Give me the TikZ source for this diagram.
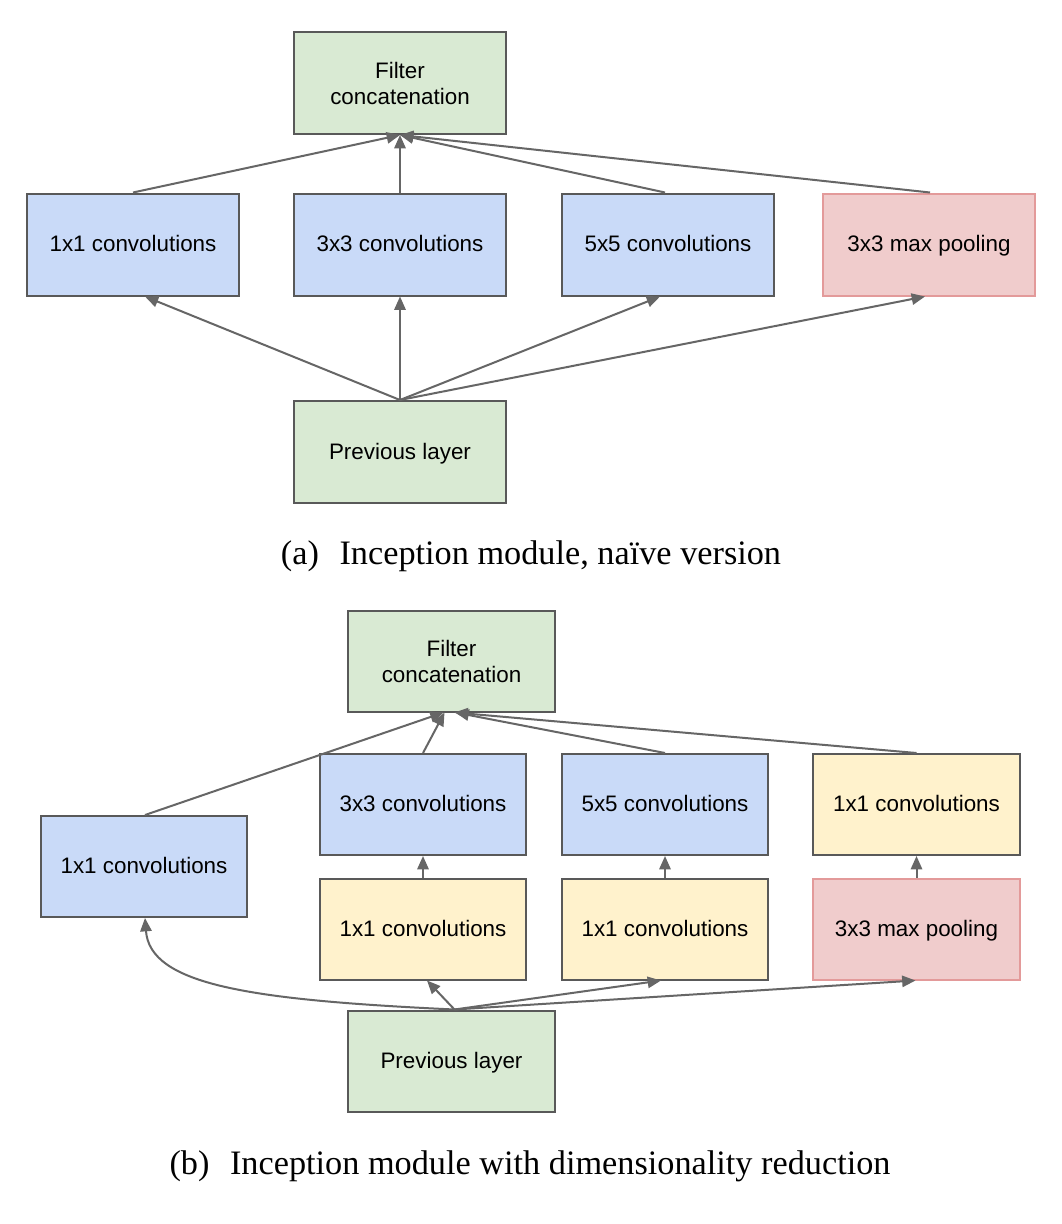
\documentclass[tikz,border=0pt]{standalone}
\usepackage{fontspec}
\setmainfont{Liberation Serif}
\newfontfamily\boxfont{Liberation Sans}
\usetikzlibrary{arrows.meta}
\definecolor{edgegray}{HTML}{595959}
\definecolor{linkgray}{HTML}{666666}
\definecolor{greenfill}{HTML}{D9EAD3}
\definecolor{bluefill}{HTML}{C9DAF8}
\definecolor{yellowfill}{HTML}{FFF2CC}
\definecolor{pinkfill}{HTML}{F0CCCC}
\definecolor{pinkedge}{HTML}{E39A9A}
\tikzset{
  layer/.style={draw=edgegray, line width=1.5pt, rectangle, align=center,
    font=\boxfont\fontsize{16.8}{19.5}\selectfont, inner sep=0pt},
  oneline/.style={text height=11pt, text depth=0pt},
  wide/.style={layer, minimum width=159pt, minimum height=76.5pt},
  narrow/.style={layer, minimum width=155pt, minimum height=75.75pt},
  greenbox/.style={fill=greenfill},
  bluebox/.style={fill=bluefill},
  yellowbox/.style={fill=yellowfill},
  poolbox/.style={fill=pinkfill, draw=pinkedge},
  link/.style={draw=linkgray, line width=1.5pt,
    -{Triangle[length=10pt,width=8.5pt]}},
  caption/.style={font=\fontsize{25.7}{30}\selectfont}
}
\begin{document}
\begin{tikzpicture}[x=0.75pt,y=-0.75pt]
\useasboundingbox[fill=white] (0,0) rectangle (1062,1224);

% ---- (a) naive version ----
\node[wide,greenbox] (aconcat) at (400,83) {Filter\\concatenation};
\node[wide,bluebox,oneline]  (aone)   at (133,244.5) {1x1 convolutions};
\node[wide,bluebox,oneline]  (athree) at (400,244.5) {3x3 convolutions};
\node[wide,bluebox,oneline]  (afive)  at (668,244.5) {5x5 convolutions};
\node[wide,poolbox,oneline]  (apool)  at (929,244.5) {3x3 max pooling};
\node[wide,greenbox,oneline] (aprev)  at (400,452) {Previous layer};

\draw[link] (aprev.north) -- ([shift={(12,0)}]aone.south);
\draw[link] (aprev.north) -- (athree.south);
\draw[link] (aprev.north) -- ([shift={(-8,0)}]afive.south);
\draw[link] (aprev.north) -- ([shift={(-4,0)}]apool.south);

\draw[link] (aone.north) -- (aconcat.south);
\draw[link] (athree.north) -- (aconcat.south);
\draw[link] ([shift={(-3,0)}]afive.north) -- (aconcat.south);
\draw[link] ([shift={(1,0)}]apool.north) -- (aconcat.south);

\node[caption] (acap) at (531,556) {(a)\hspace{0.6em}Inception module, na\"{\i}ve version};

% ---- (b) with dimensionality reduction ----
\node[narrow,greenbox]  (bconcat) at (451.5,661) {Filter\\concatenation};
\node[narrow,bluebox,oneline]   (bthree)  at (423,804.5) {3x3 convolutions};
\node[narrow,bluebox,oneline]   (bfive)   at (665,804.5) {5x5 convolutions};
\node[narrow,yellowbox,oneline] (bpoolproj) at (916.5,804.5) {1x1 convolutions};
\node[narrow,bluebox,oneline]   (bone)    at (144,866.5) {1x1 convolutions};
\node[narrow,yellowbox,oneline] (bredthree) at (423,929) {1x1 convolutions};
\node[narrow,yellowbox,oneline] (bredfive)  at (665,929) {1x1 convolutions};
\node[narrow,poolbox,oneline]   (bpool)   at (916.5,929) {3x3 max pooling};
\node[narrow,greenbox,oneline]  (bprev)   at (451.5,1061) {Previous layer};

\coordinate (bsrc) at ([shift={(3,0)}]bprev.north);
\draw[link] (bsrc) .. controls (250,1000) and (150,985) .. ([shift={(1,0)}]bone.south);
\draw[link] (bsrc) -- ([shift={(4,0)}]bredthree.south);
\draw[link] (bsrc) -- ([shift={(-4,0)}]bredfive.south);
\draw[link] (bsrc) -- ([shift={(-1,0)}]bpool.south);

\draw[link] (bredthree.north) -- (bthree.south);
\draw[link] (bredfive.north) -- (bfive.south);
\draw[link] (bpool.north) -- (bpoolproj.south);

\draw[link] ([shift={(1,0)}]bone.north) -- ([shift={(-8,0)}]bconcat.south);
\draw[link] (bthree.north) -- ([shift={(-7,0)}]bconcat.south);
\draw[link] (bfive.north) -- ([shift={(4,0)}]bconcat.south);
\draw[link] (bpoolproj.north) -- ([shift={(3,0)}]bconcat.south);

\node[caption] (bcap) at (530,1166) {(b)\hspace{0.6em}Inception module with dimensionality reduction};
\end{tikzpicture}
\end{document}
